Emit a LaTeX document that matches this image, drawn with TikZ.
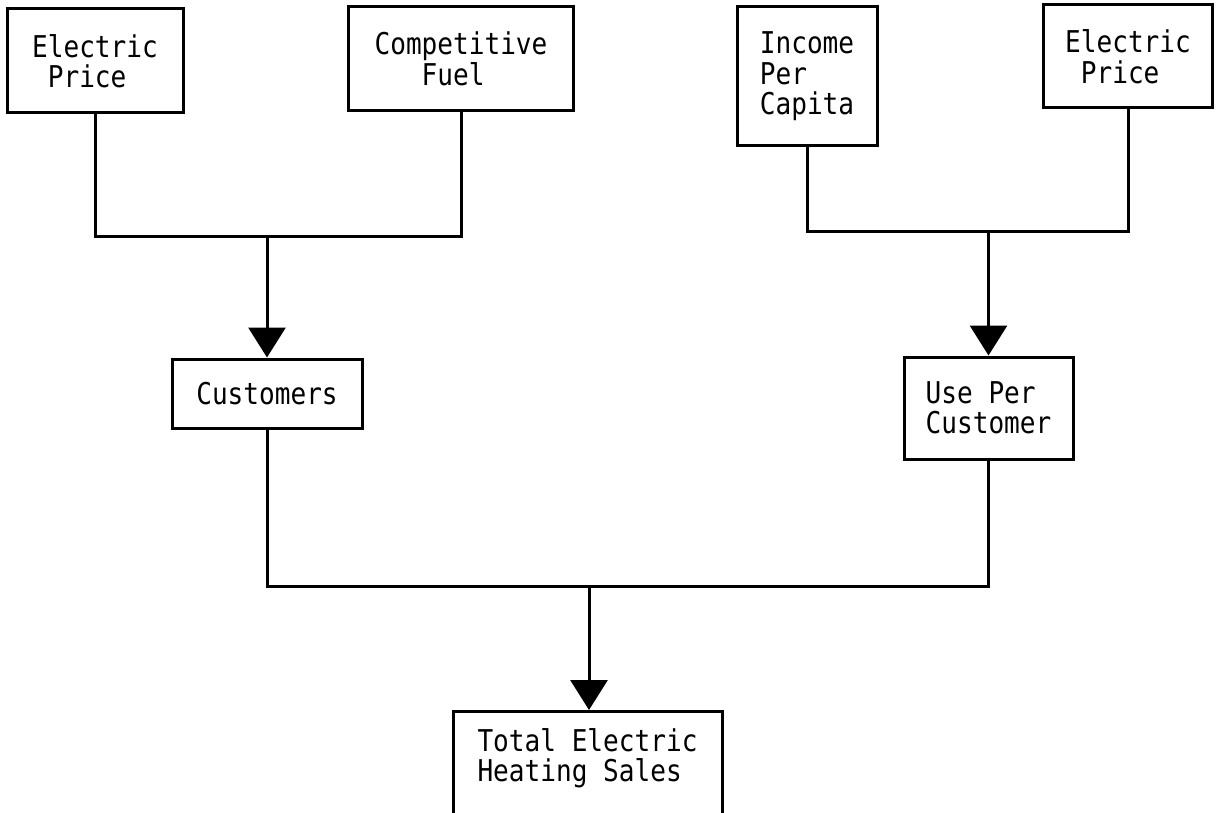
\documentclass[tikz,border=0pt]{standalone}
\usepackage{fontspec}
\newfontfamily\diagfont[FakeStretch=0.87]{DejaVu Sans Mono}
\usetikzlibrary{arrows.meta}
\begin{document}
\begin{tikzpicture}[x=1pt,y=-1pt,
  box/.style={draw, line width=3pt, inner sep=0pt, align=left,
    font=\diagfont\fontsize{30pt}{30.5pt}\selectfont},
  wire/.style={line width=3pt},
  arr/.style={line width=3pt, -{Triangle[length=30pt 0 0, width=37pt 0 0]}}]
\useasboundingbox (0,0) rectangle (1219,813);
\fill[white] (0,0) rectangle (1219,813);
% top row
\node[box, minimum width=176pt, minimum height=104pt] (ep1) at (95,61) {Electric\\\hphantom{E}Price};
\node[box, minimum width=225pt, minimum height=104pt] (cf) at (461,59) {Competitive\\\hphantom{Com}Fuel};
\node[box, minimum width=140pt, minimum height=139pt] (ipc) at (807,76.5) {Income\\Per\\Capita};
\node[box, minimum width=169pt, minimum height=103pt] (ep2) at (1128,56.5) {Electric\\\hphantom{E}Price};
% middle row
\node[box, minimum width=190pt, minimum height=69pt] (cust) at (267,393.5) {Customers};
\node[box, minimum width=169pt, minimum height=102pt] (upc) at (988.5,408) {Use Per\\Customer};
% bottom box (cut off at the page edge)
\node[draw, line width=3pt, inner sep=0pt, minimum width=269pt, minimum height=140pt, anchor=north] (total) at (587.5,710) {};
\node[inner sep=0pt, align=left, font=\diagfont\fontsize{30pt}{30.5pt}\selectfont] (totaltext) at (587.5,758) {Total Electric\\Heating Sales};
% junctions
\coordinate (j1) at (267,237);
\coordinate (j2) at (988.5,232);
\coordinate (j3) at (589,586);
% connectors
\draw[wire] (ep1.south) -- (ep1.south |- j1) -- (cf.south |- j1) -- (cf.south);
\draw[arr] (j1) -- (cust.north);
\draw[wire] (ipc.south) -- (ipc.south |- j2) -- (ep2.south |- j2) -- (ep2.south);
\draw[arr] (j2) -- (upc.north);
\draw[wire] (cust.south) -- (cust.south |- j3) -- (upc.south |- j3) -- (upc.south);
\draw[arr] (j3) -- (j3 |- total.north);
\end{tikzpicture}
\end{document}
